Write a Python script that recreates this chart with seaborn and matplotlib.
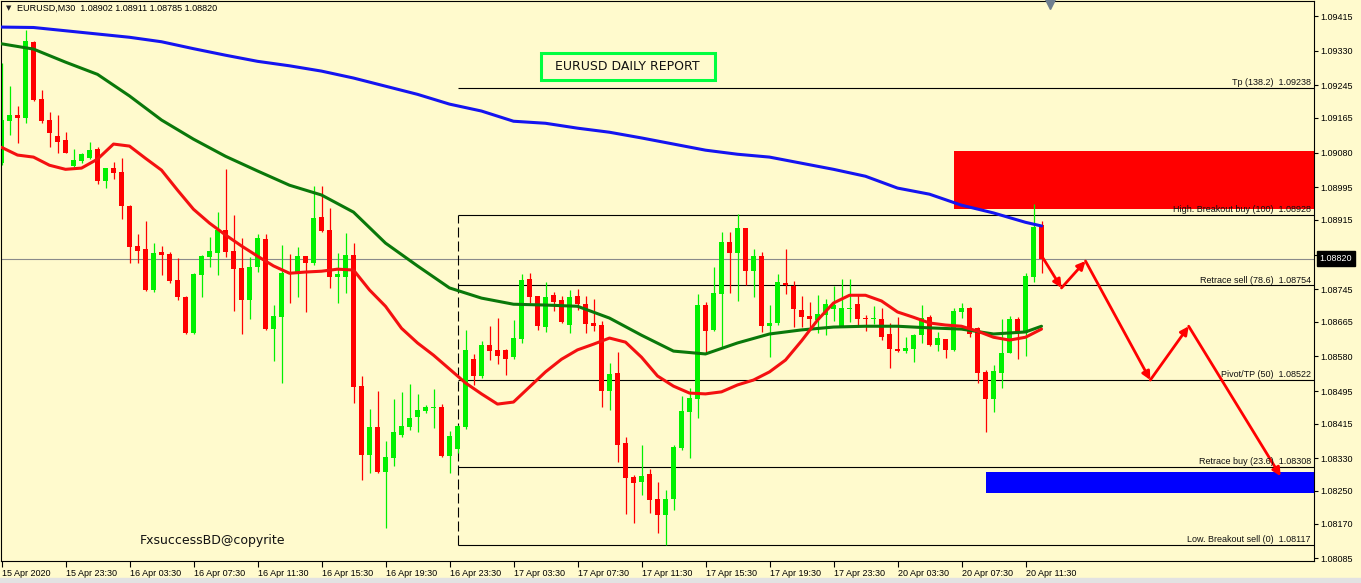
import numpy as np
import pandas as pd
import seaborn as sns
import matplotlib.pyplot as plt
import matplotlib.transforms as mtransforms
from matplotlib.patches import Rectangle

# EURUSD M30 candles, prices in points (1 point = 0.00001)
open_pts = [109054, 109157, 109172, 109165, 109351, 109211, 109160, 109120, 109111, 109047,
            109059, 109066, 109089, 109010, 109042, 109032, 108949, 108851, 108843, 108743,
            108836, 108831, 108767, 108726, 108637, 108780, 108824, 108833, 108890, 108838,
            108797, 108718, 108799, 108868, 108647, 108676, 108787, 108784, 108826, 108809,
            108922, 108890, 108775, 108775, 108829, 108507, 108338, 108407, 108296, 108331,
            108387, 108407, 108431, 108446, 108453, 108456, 108336, 108353, 108407, 108573,
            108532, 108608, 108596, 108596, 108578, 108622, 108770, 108728, 108652, 108730,
            108718, 108657, 108728, 108708, 108662, 108657, 108495, 108539, 108367, 108284,
            108272, 108291, 108230, 108191, 108230, 108355, 108443, 108475, 108706, 108645,
            108733, 108860, 108833, 108895, 108789, 108826, 108654, 108662, 108760, 108752,
            108694, 108679, 108669, 108681, 108696, 108654, 108696, 108708, 108674, 108672,
            108672, 108635, 108598, 108593, 108598, 108632, 108676, 108608, 108622, 108596,
            108689, 108699, 108650, 108542, 108475, 108539, 108588, 108672, 108637, 108775,
            108902]
high_pts = [109299, 109243, 109194, 109380, 109353, 109233, 109179, 109172, 109130, 109089,
            109079, 109106, 109093, 109043, 109057, 109066, 108951, 108880, 108912, 108858,
            108851, 108836, 108821, 108728, 108784, 108829, 108873, 108934, 109039, 108927,
            108870, 108824, 108880, 108880, 108706, 108853, 108831, 108848, 108827, 108998,
            108998, 108944, 108833, 108883, 108858, 108532, 108451, 108495, 108372, 108475,
            108492, 108512, 108488, 108460, 108500, 108463, 108397, 108412, 108645, 108586,
            108618, 108654, 108674, 108597, 108669, 108782, 108784, 108729, 108762, 108738,
            108728, 108743, 108745, 108728, 108721, 108667, 108564, 108591, 108382, 108289,
            108362, 108304, 108272, 108252, 108362, 108483, 108502, 108733, 108713, 108799,
            108885, 108885, 108929, 108896, 108843, 108836, 108706, 108782, 108843, 108765,
            108728, 108713, 108730, 108721, 108752, 108770, 108770, 108730, 108681, 108703,
            108699, 108662, 108676, 108627, 108635, 108706, 108681, 108640, 108622, 108699,
            108711, 108701, 108652, 108547, 108559, 108672, 108679, 108676, 108784, 108954,
            108911]
low_pts = [109049, 109123, 109103, 109152, 109206, 109152, 109093, 109079, 109078, 109044,
           109054, 109064, 109003, 108993, 109015, 108917, 108809, 108809, 108740, 108738,
           108780, 108760, 108718, 108635, 108635, 108726, 108799, 108780, 108824, 108691,
           108635, 108672, 108787, 108645, 108569, 108515, 108711, 108726, 108689, 108804,
           108885, 108748, 108711, 108735, 108466, 108277, 108294, 108294, 108159, 108311,
           108382, 108399, 108394, 108441, 108404, 108333, 108294, 108343, 108402, 108510,
           108527, 108571, 108561, 108534, 108573, 108613, 108711, 108645, 108640, 108691,
           108662, 108637, 108694, 108637, 108642, 108456, 108448, 108321, 108193, 108171,
           108240, 108196, 108147, 108117, 108203, 108350, 108331, 108429, 108586, 108642,
           108603, 108735, 108716, 108755, 108726, 108640, 108578, 108657, 108733, 108652,
           108652, 108645, 108637, 108632, 108667, 108652, 108664, 108654, 108642, 108659,
           108620, 108551, 108591, 108588, 108566, 108613, 108605, 108593, 108576, 108593,
           108674, 108627, 108515, 108394, 108443, 108502, 108588, 108573, 108581, 108762,
           108785]
close_pts = [109160, 109172, 109165, 109353, 109209, 109157, 109128, 109106, 109079, 109062,
             109076, 109086, 109010, 109042, 109030, 108949, 108848, 108838, 108743, 108833,
             108829, 108765, 108726, 108637, 108782, 108826, 108838, 108890, 108836, 108794,
             108718, 108799, 108870, 108647, 108679, 108784, 108782, 108826, 108809, 108919,
             108887, 108775, 108782, 108829, 108505, 108338, 108407, 108296, 108333, 108394,
             108409, 108429, 108448, 108456, 108456, 108336, 108385, 108409, 108596, 108532,
             108608, 108593, 108581, 108573, 108625, 108767, 108726, 108654, 108726, 108713,
             108664, 108726, 108708, 108659, 108654, 108495, 108537, 108362, 108282, 108269,
             108286, 108228, 108191, 108230, 108358, 108446, 108478, 108706, 108642, 108735,
             108860, 108833, 108895, 108789, 108826, 108654, 108662, 108762, 108755, 108696,
             108676, 108672, 108684, 108708, 108706, 108699, 108699, 108672, 108672, 108674,
             108627, 108598, 108593, 108600, 108632, 108674, 108608, 108625, 108596, 108691,
             108699, 108635, 108539, 108475, 108544, 108588, 108672, 108637, 108777, 108897,
             108820]

# moving averages (points)
blue_ma_bars = [0, 4, 8, 12, 16, 20, 24, 28, 32, 36, 40, 44, 48, 52, 56, 60, 64,
                68, 72, 76, 80, 84, 88, 92, 96, 100, 104, 108, 112, 116, 120, 124, 128, 130]
blue_ma_pts = [109388, 109387, 109379, 109371, 109363, 109352, 109335, 109319, 109304,
               109293, 109280, 109263, 109243, 109223, 109199, 109182, 109157, 109152,
               109140, 109130, 109116, 109101, 109086, 109076, 109069, 109054, 109039,
               109022, 108993, 108978, 108951, 108932, 108909, 108900]
green_ma_pts = [109347, 109334, 109302, 109272, 109219, 109160, 109113, 109071, 109035,
                109000, 108976, 108934, 108858, 108802, 108748, 108723, 108708, 108706,
                108703, 108674, 108632, 108593, 108586, 108613, 108635, 108645, 108652,
                108654, 108654, 108650, 108647, 108635, 108640, 108654]
red_ma_bars = [0, 2, 4, 6, 8, 10, 12, 14, 16, 18, 20, 22, 24, 26, 28, 30, 32, 34, 36, 38,
               40, 42, 44, 46, 48, 50, 52, 54, 56, 58, 60, 62, 64, 66, 68, 70, 72, 74, 76,
               78, 80, 82, 84, 86, 88, 90, 92, 94, 96, 98, 100, 102, 104, 106, 108, 110,
               112, 114, 116, 118, 120, 122, 124, 126, 128, 130]
red_ma_pts = [109093, 109074, 109069, 109049, 109039, 109042, 109064, 109101, 109096, 109066,
              109037, 108988, 108941, 108907, 108878, 108851, 108826, 108802, 108784, 108787,
              108789, 108794, 108792, 108743, 108703, 108649, 108613, 108583, 108549, 108515,
              108488, 108463, 108468, 108505, 108542, 108573, 108596, 108610, 108625, 108615,
              108578, 108532, 108507, 108490, 108488, 108493, 108510, 108522, 108542, 108571,
              108618, 108669, 108711, 108730, 108730, 108716, 108689, 108676, 108662, 108657,
              108654, 108642, 108627, 108620, 108627, 108647]

# fibonacci levels
level_names = ["Tp (138.2)", "High. Breakout buy (100)", "Retrace sell (78.6)",
               "Pivot/TP (50)", "Retrace buy (23.6)", "Low. Breakout sell (0)"]
level_prices = [1.09238, 1.08928, 1.08754, 1.08522, 1.08308, 1.08117]
level_start_bar = 57

# supply / demand zones: start bar, low, high
sell_zone = (119, 1.08941, 1.09084)
buy_zone = (123, 1.08245, 1.08296)

# projected path
forecast_bars = [130.2, 132.5, 135.5, 143.6, 148.4, 159.9]
forecast_prices = [1.08821, 1.08748, 1.08814, 1.08522, 1.08654, 1.08286]

last_price = 1.08820
date_bars = [0, 8, 16, 24, 32, 40, 48, 56, 64, 72, 80, 88, 96, 104, 112, 120, 128]
date_labels = ["15 Apr 2020", "15 Apr 23:30", "16 Apr 03:30", "16 Apr 07:30", "16 Apr 11:30",
               "16 Apr 15:30", "16 Apr 19:30", "16 Apr 23:30", "17 Apr 03:30", "17 Apr 07:30",
               "17 Apr 11:30", "17 Apr 15:30", "17 Apr 19:30", "17 Apr 23:30", "20 Apr 03:30",
               "20 Apr 07:30", "20 Apr 11:30"]
price_ticks = [1.09415, 1.09330, 1.09245, 1.09165, 1.09080, 1.08995, 1.08915, 1.08830,
               1.08745, 1.08665, 1.08580, 1.08495, 1.08415, 1.08330, 1.08250, 1.08170, 1.08085]

BG = "#FFFACD"
BULL = "#00F000"
BEAR = "#FF0000"

sns.set_theme(style="white")
plt.rcParams["font.family"] = ["Liberation Sans", "DejaVu Sans"]

candles = pd.DataFrame({
    "bar": np.arange(len(open_pts)),
    "open": np.array(open_pts) / 1e5,
    "high": np.array(high_pts) / 1e5,
    "low": np.array(low_pts) / 1e5,
    "close": np.array(close_pts) / 1e5,
})
colors = np.where(candles["close"] >= candles["open"], BULL, BEAR)

fig = plt.figure(figsize=(13.61, 5.83), dpi=100, facecolor=BG)
ax = fig.add_axes([0.5 / 1361, 22 / 583, 1313 / 1361, 560 / 583])
ax.set_facecolor(BG)
ax.set_xlim(-0.125, 164.0)
ax.set_ylim(1.08078, 1.09452)

# zones
for start, lo, hi, col in [(*sell_zone, "#FF0000"), (*buy_zone, "#0000FF")]:
    ax.add_patch(Rectangle((start, lo), 164.0 - start, hi - lo, color=col, lw=0, zorder=1))

# last price line
ax.axhline(last_price, color="#8A8A8A", lw=0.8, zorder=1.2)

# fib levels
ax.hlines(level_prices, level_start_bar, 164.0, colors="black", lw=0.8, zorder=1.5)
ax.vlines(level_start_bar, level_prices[-1], level_prices[1], colors="black",
          linestyles=(0, (9, 3.6)), lw=0.8, zorder=1.5)
lbl_trans = mtransforms.blended_transform_factory(ax.transAxes, ax.transData)
for name, price in zip(level_names, level_prices):
    ax.text(0.998, price + 0.00002, f"{name}  {price:.5f}", transform=lbl_trans,
            ha="right", va="bottom", fontsize=6.5, color="#111111", zorder=5)

# candles
ax.vlines(candles["bar"], candles["low"], candles["high"], colors=colors, lw=0.9, zorder=2)
body = np.maximum((candles["close"] - candles["open"]).abs(), 0.00002)
ax.bar(candles["bar"], body, bottom=np.minimum(candles["open"], candles["close"]),
       width=0.7, color=colors, linewidth=0, zorder=2)

# moving averages
sns.lineplot(x=blue_ma_bars, y=np.array(blue_ma_pts) / 1e5, ax=ax, color="#1414F0",
             linewidth=2.2, zorder=3)
sns.lineplot(x=blue_ma_bars, y=np.array(green_ma_pts) / 1e5, ax=ax, color="#0A780A",
             linewidth=2.2, zorder=3)
sns.lineplot(x=red_ma_bars, y=np.array(red_ma_pts) / 1e5, ax=ax, color="#F41010",
             linewidth=2.2, zorder=3)

# projected path
for k in range(len(forecast_bars) - 1):
    ax.annotate("", xy=(forecast_bars[k + 1], forecast_prices[k + 1]),
                xytext=(forecast_bars[k], forecast_prices[k]),
                arrowprops=dict(arrowstyle="-|>", color="#FF0000", lw=2.0,
                                mutation_scale=12, shrinkA=0, shrinkB=0), zorder=4)

# axes
for s in ax.spines.values():
    s.set_color("black")
    s.set_linewidth(0.8)
ax.yaxis.tick_right()
ax.set_yticks(price_ticks)
ax.set_yticklabels([f"{v:.5f}" for v in price_ticks])
ax.set_xticks(date_bars)
ax.set_xticklabels(date_labels, ha="left")
ax.tick_params(axis="y", direction="out", length=3, width=0.8, labelsize=6.5, pad=2,
               colors="black", right=True, left=False)
ax.tick_params(axis="x", direction="out", length=4, width=0.8, labelsize=6.5, pad=1.5,
               colors="black", bottom=True)
ax.set_xlabel("")
ax.set_ylabel("")
ax.grid(False)

# current price tag
tag_trans = mtransforms.offset_copy(lbl_trans, fig=fig, x=6, y=0, units="dots")
ax.text(1.0, last_price, f"{last_price:.5f}", transform=tag_trans, ha="left", va="center",
        fontsize=6.5, color="white", zorder=10, clip_on=False,
        bbox=dict(boxstyle="square,pad=0.3", fc="black", ec="black"))

# texts
ax.text(0.004, 0.9875, "\u25BC", transform=ax.transAxes, fontsize=5, ha="left", va="center",
        family="DejaVu Sans")
ax.text(0.0122, 0.9875, "EURUSD,M30  1.08902 1.08911 1.08785 1.08820", transform=ax.transAxes,
        fontsize=6.5, ha="left", va="center", color="black")
ax.add_patch(Rectangle((0.4113, 0.859), 0.1325, 0.0482, transform=ax.transAxes, fill=False,
                       ec="#00FF40", lw=2.2, zorder=5))
ax.text(0.4775, 0.883, "EURUSD DAILY REPORT", transform=ax.transAxes, fontsize=9,
        ha="center", va="center", color="#111111", family="DejaVu Sans", zorder=5)
ax.text(0.106, 0.036, "FxsuccessBD@copyrite", transform=ax.transAxes, fontsize=9,
        ha="left", va="center", color="#111111", family="DejaVu Sans", zorder=5)

# chart shift marker
ax.plot([131], [0.995], marker="v", ms=7, color="#6F7F90", transform=lbl_trans.__class__(
    ax.transData, ax.transAxes) if False else mtransforms.blended_transform_factory(
    ax.transData, ax.transAxes), clip_on=False, zorder=6)

fig.patches.append(Rectangle((0, 0), 1, 5 / 583, transform=fig.transFigure,
                             color="#E2E2E2", zorder=0))

fig.savefig("out.png", dpi=100, facecolor=BG)
